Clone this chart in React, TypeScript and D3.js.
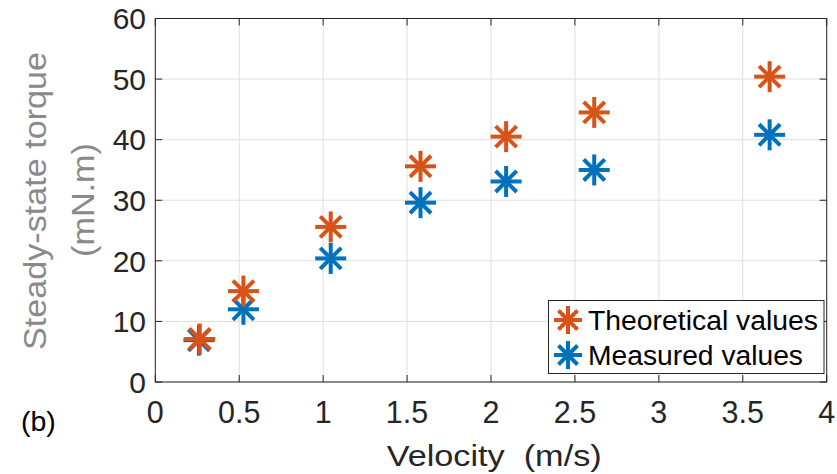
import React from "react";
import * as d3 from "d3";

const velocities = [0.265, 0.525, 1.045, 1.58, 2.09, 2.615, 3.66];
const theoretical = [7.1, 15.0, 25.6, 35.6, 40.5, 44.5, 50.4];
const measuredX = [0.26, 0.525, 1.045, 1.58, 2.09, 2.615, 3.66];
const measured = [6.9, 12.0, 20.4, 29.6, 33.1, 35.0, 40.8];
const xTicks = [0, 0.5, 1, 1.5, 2, 2.5, 3, 3.5, 4];
const yTicks = [0, 10, 20, 30, 40, 50, 60];
const legendLabels = ["Theoretical values", "Measured values"];

const W = 837;
const H = 474;
const L = 155.3, R = 826.7, T = 18.5, B = 382;
const ORANGE = "#D95319";
const BLUE = "#0072BD";
const AX = "#262626";
const FONT = "'Liberation Sans', Arial, Helvetica, sans-serif";

function Asterisk({ cx, cy, color, r = 15.5 }: { cx: number; cy: number; color: string; r?: number }) {
  const d = r * 0.68;
  return (
    <g stroke={color} strokeWidth={4} strokeLinecap="butt">
      <line x1={cx - r} y1={cy} x2={cx + r} y2={cy} />
      <line x1={cx} y1={cy - r} x2={cx} y2={cy + r} />
      <line x1={cx - d} y1={cy - d} x2={cx + d} y2={cy + d} />
      <line x1={cx - d} y1={cy + d} x2={cx + d} y2={cy - d} />
    </g>
  );
}

export default function App() {
  const x = d3.scaleLinear().domain([0, 4]).range([L, R]);
  const y = d3.scaleLinear().domain([0, 60]).range([B, T]);
  const tickLen = 7;
  const fmt = (v: number) => String(v);

  return (
    <svg width={W} height={H} style={{ position: "absolute", left: 0, top: 0, background: "#fff" }} fontFamily={FONT}>
      <rect x={0} y={0} width={W} height={H} fill="#fff" />
      {/* grid */}
      {xTicks.map((t) => (
        <line key={"gx" + t} x1={x(t)} x2={x(t)} y1={T} y2={B} stroke="#dfdfdf" strokeWidth={1} />
      ))}
      {yTicks.map((t) => (
        <line key={"gy" + t} x1={L} x2={R} y1={y(t)} y2={y(t)} stroke="#dfdfdf" strokeWidth={1} />
      ))}
      {/* ticks */}
      {xTicks.map((t) => (
        <g key={"tx" + t} stroke={AX} strokeWidth={1}>
          <line x1={x(t)} x2={x(t)} y1={B} y2={B - tickLen} />
          <line x1={x(t)} x2={x(t)} y1={T} y2={T + tickLen} />
        </g>
      ))}
      {yTicks.map((t) => (
        <g key={"ty" + t} stroke={AX} strokeWidth={1}>
          <line x1={L} x2={L + tickLen} y1={y(t)} y2={y(t)} />
          <line x1={R} x2={R - tickLen} y1={y(t)} y2={y(t)} />
        </g>
      ))}
      <rect x={L} y={T} width={R - L} height={B - T} fill="none" stroke={AX} strokeWidth={1} />
      {/* tick labels */}
      {xTicks.map((t) => (
        <text key={"lx" + t} x={x(t)} y={423.3} textAnchor="middle" fontSize={30.5} fill={AX}>
          {fmt(t)}
        </text>
      ))}
      {yTicks.map((t) => (
        <text key={"ly" + t} x={146} y={y(t)} dy="0.36em" textAnchor="end" fontSize={30} fill={AX}>
          {fmt(t)}
        </text>
      ))}
      {/* axis labels */}
      <text x={494.2} y={466} textAnchor="middle" fontSize={30} fill={AX} style={{ whiteSpace: "pre" }}
        textLength={215} lengthAdjust="spacingAndGlyphs">
        {"Velocity  (m/s)"}
      </text>
      <text transform={`translate(46,201) rotate(-90)`} textAnchor="middle" fontSize={30.5} fill="#8a8a8a"
        textLength={298} lengthAdjust="spacingAndGlyphs">
        Steady-state torque
      </text>
      <text transform={`translate(94,200) rotate(-90)`} textAnchor="middle" fontSize={30.5} fill="#8a8a8a"
        textLength={114} lengthAdjust="spacingAndGlyphs">
        (mN.m)
      </text>
      <text x={21} y={430.5} fontSize={28.5} fill="#000">(b)</text>
      {/* data */}
      {measured.map((v, i) => (
        <Asterisk key={"m" + i} cx={x(measuredX[i])} cy={y(v)} color={BLUE} />
      ))}
      {theoretical.map((v, i) => (
        <Asterisk key={"t" + i} cx={x(velocities[i])} cy={y(v)} color={ORANGE} />
      ))}
      {/* legend */}
      <rect x={548.5} y={300.5} width={275.5} height={73} fill="#fff" stroke={AX} strokeWidth={1} />
      <Asterisk cx={568} cy={320} color={ORANGE} r={14} />
      <Asterisk cx={568} cy={355} color={BLUE} r={14} />
      <text x={588} y={329.5} fontSize={27} fill="#000" textLength={230} lengthAdjust="spacingAndGlyphs">{legendLabels[0]}</text>
      <text x={588} y={364.5} fontSize={27} fill="#000" textLength={215} lengthAdjust="spacingAndGlyphs">{legendLabels[1]}</text>
    </svg>
  );
}
